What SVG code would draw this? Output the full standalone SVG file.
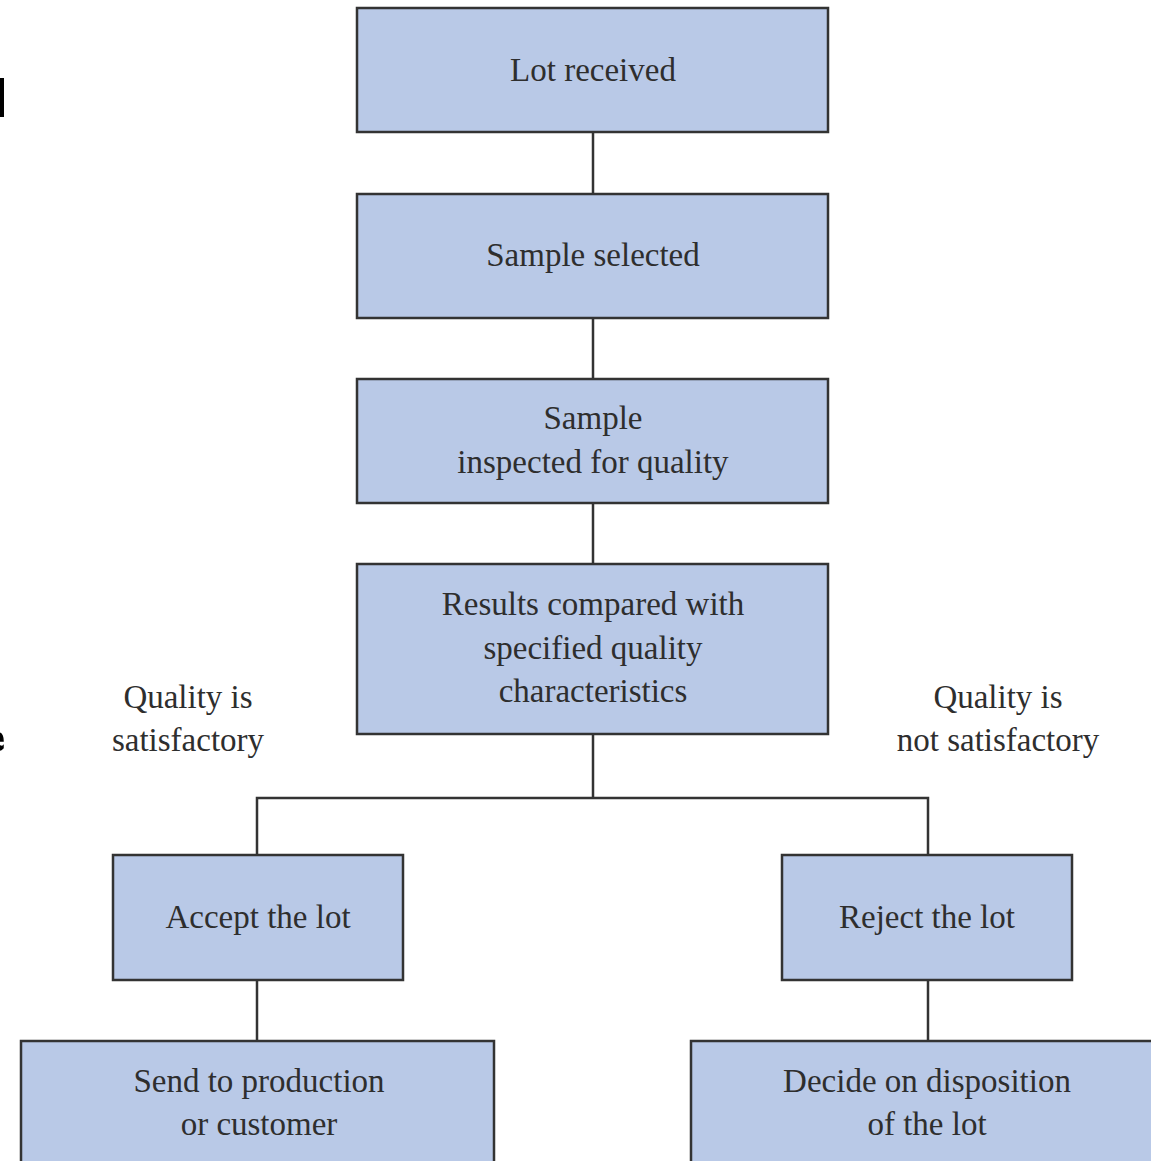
<svg xmlns="http://www.w3.org/2000/svg" width="1151" height="1161" viewBox="0 0 1151 1161">
<style>
.box{fill:#b9c9e7;stroke:#333;stroke-width:2.5}
.t{font-family:"Liberation Serif","Times New Roman",serif;font-size:33px;fill:#2e2e2e;text-anchor:middle}
.c{fill:none;stroke:#333;stroke-width:2.5}
</style>
<rect width="1151" height="1161" fill="#fff"/>
<g id="edge-fragments">
<rect x="0" y="78" width="4" height="39" fill="#000"/>
<path d="M0,733 Q3,735 3,741 L0,741 M0,746 Q2,747 3,746 L3,748 Q1,750 0,750 Z" fill="#000" stroke="#000" stroke-width="1.5"/>
</g>
<g id="connectors">
<line class="c" x1="593" y1="132" x2="593" y2="193"/>
<line class="c" x1="593" y1="318" x2="593" y2="379"/>
<line class="c" x1="593" y1="503" x2="593" y2="564"/>
<line class="c" x1="593" y1="734" x2="593" y2="798"/>
<polyline class="c" points="257,855 257,798 928,798 928,855"/>
<line class="c" x1="257" y1="980" x2="257" y2="1041"/>
<line class="c" x1="928" y1="980" x2="928" y2="1041"/>
</g>
<g id="n1"><rect class="box" x="357" y="8" width="471" height="124"/><text class="t" x="593" y="81">Lot received</text></g>
<g id="n2"><rect class="box" x="357" y="194" width="471" height="124"/><text class="t" x="593" y="266">Sample selected</text></g>
<g id="n3"><rect class="box" x="357" y="379" width="471" height="124"/><text class="t" x="593" y="429">Sample</text><text class="t" x="593" y="473">inspected for quality</text></g>
<g id="n4"><rect class="box" x="357" y="564" width="471" height="170"/><text class="t" x="593" y="615">Results compared with</text><text class="t" x="593" y="659">specified quality</text><text class="t" x="593" y="702">characteristics</text></g>
<g id="lbl-left"><text class="t" x="188" y="708">Quality is</text><text class="t" x="188" y="751">satisfactory</text></g>
<g id="lbl-right"><text class="t" x="998" y="708">Quality is</text><text class="t" x="998" y="751">not satisfactory</text></g>
<g id="n5"><rect class="box" x="113" y="855" width="290" height="125"/><text class="t" x="258" y="928">Accept the lot</text></g>
<g id="n6"><rect class="box" x="782" y="855" width="290" height="125"/><text class="t" x="927" y="928">Reject the lot</text></g>
<g id="n7"><rect class="box" x="21" y="1041" width="473" height="140"/><text class="t" x="259" y="1092">Send to production</text><text class="t" x="259" y="1135">or customer</text></g>
<g id="n8"><rect class="box" x="691" y="1041" width="480" height="140"/><text class="t" x="927" y="1092">Decide on disposition</text><text class="t" x="927" y="1135">of the lot</text></g>
</svg>
